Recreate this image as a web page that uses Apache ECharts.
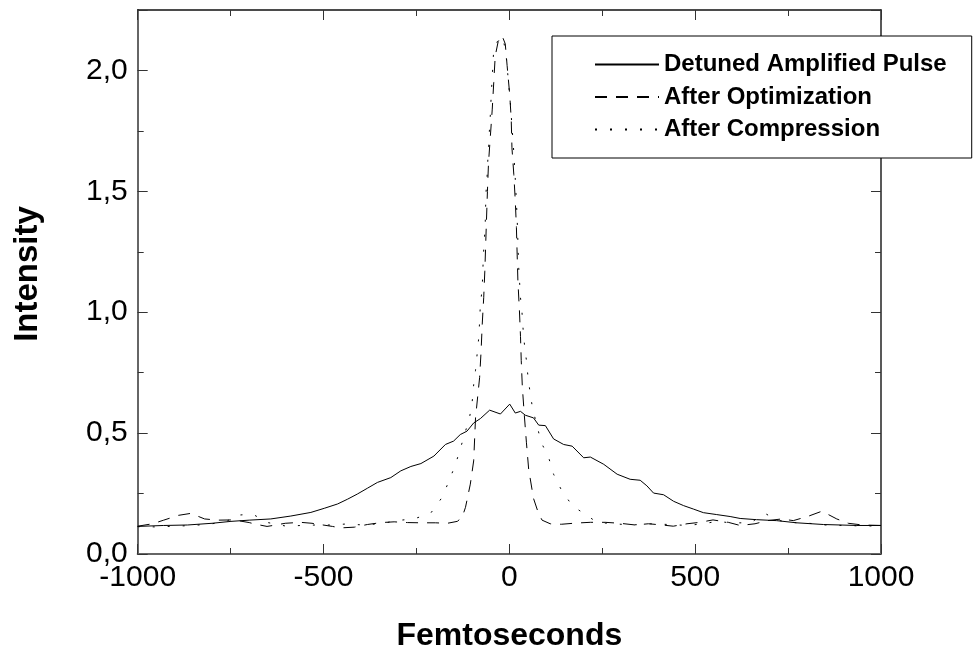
<!DOCTYPE html>
<html>
<head>
<meta charset="utf-8">
<script src="https://cdn.jsdelivr.net/npm/echarts@6/dist/echarts.min.js"></script>
<style>
html,body{margin:0;padding:0;background:#fff;}
#chart{width:974px;height:657px;}
</style>
</head>
<body>
<div id="chart"></div>
<script>
// ---- data ----
const seriesNames = ['Detuned Amplified Pulse', 'After Optimization', 'After Compression'];
const xTickValues = [-1000, -500, 0, 500, 1000];
const yTickValues = [0, 0.5, 1.0, 1.5, 2.0];
const yTickLabels = ['0,0', '0,5', '1,0', '1,5', '2,0'];

const detX = [-1000,-930,-866,-800,-749,-700,-642,-588,-534,-498,-462,-435,-409,-382,-355,-319,-292,-265,-238,-203,-172,-150,-132,-114,-96,-78,-53,-24,1,16,30,43,65,79,97,119,146,169,200,218,254,290,325,352,370,388,415,442,469,495,522,558,594,621,665,719,773,845,935,1000];
const detY = [0.114,0.118,0.120,0.127,0.135,0.140,0.145,0.157,0.172,0.189,0.207,0.227,0.248,0.272,0.296,0.316,0.344,0.362,0.374,0.405,0.453,0.467,0.494,0.508,0.542,0.560,0.595,0.579,0.620,0.583,0.590,0.574,0.563,0.533,0.531,0.476,0.453,0.446,0.398,0.401,0.371,0.330,0.309,0.305,0.282,0.252,0.245,0.218,0.200,0.186,0.171,0.163,0.155,0.147,0.142,0.138,0.129,0.122,0.118,0.118];

const optX = [-1000,-960,-930,-890,-857,-820,-785,-742,-700,-685,-652,-636,-603,-562,-531,-476,-454,-417,-382,-345,-310,-274,-239,-199,-167,-140,-127,-118,-105,-96,-91,-80,-76,-73,-69,-66,-62,-59,-56,-51,-46,-42,-38,-30,-20,-11,-6,1,5,7,12,16,19,21,23,27,30,32,35,40,46,52,65,78,88,110,140,180,218,258,298,339,374,411,441,478,513,548,589,621,661,694,733,764,804,841,881,912,950,1000];
const optY = [0.115,0.125,0.140,0.160,0.168,0.145,0.140,0.141,0.130,0.124,0.114,0.118,0.127,0.131,0.127,0.114,0.108,0.111,0.122,0.130,0.133,0.130,0.129,0.129,0.127,0.135,0.152,0.193,0.289,0.385,0.563,0.73,0.84,0.95,1.06,1.17,1.36,1.50,1.62,1.73,1.84,1.95,2.06,2.12,2.145,2.11,2.02,1.90,1.80,1.68,1.57,1.46,1.35,1.24,1.13,1.01,0.90,0.80,0.69,0.58,0.46,0.35,0.23,0.17,0.14,0.125,0.123,0.128,0.131,0.131,0.127,0.120,0.125,0.120,0.115,0.125,0.131,0.141,0.131,0.118,0.125,0.138,0.145,0.138,0.156,0.177,0.145,0.127,0.120,0.118];

const cmpX = [-1000,-950,-900,-850,-800,-760,-737,-691,-650,-600,-560,-520,-480,-440,-391,-360,-337,-306,-257,-212,-181,-163,-145,-132,-107,-100,-96,-91,-82,-78,-73,-70,-65,-63,-60,-56,-51,-49,-44,-42,-32,-22,-15,-8,3,12,16,21,25,30,34,37,41,46,50,56,63,74,85,106,119,139,169,209,236,280,330,380,430,480,520,560,600,650,688,720,760,800,850,900,950,1000];
const cmpY = [0.113,0.112,0.115,0.118,0.125,0.135,0.160,0.165,0.130,0.115,0.118,0.120,0.120,0.124,0.120,0.124,0.127,0.138,0.145,0.168,0.234,0.300,0.370,0.435,0.565,0.630,0.700,0.760,0.900,1.030,1.100,1.230,1.360,1.490,1.560,1.690,1.820,1.890,2.030,2.090,2.120,2.140,2.120,2.050,1.860,1.660,1.550,1.390,1.190,1.060,1.000,0.930,0.860,0.800,0.735,0.665,0.597,0.535,0.464,0.398,0.330,0.268,0.200,0.159,0.131,0.125,0.120,0.125,0.122,0.118,0.125,0.135,0.128,0.130,0.168,0.140,0.130,0.128,0.120,0.118,0.116,0.116];

// ---- chart ----
const FONT = "'Liberation Sans', Arial, Helvetica, sans-serif";
const pairs = (xs, ys) => xs.map((x, i) => [x, ys[i]]);
const yLabel = v => {
  const i = yTickValues.findIndex(t => Math.abs(t - v) < 1e-9);
  return i >= 0 ? yTickLabels[i] : '';
};
const xLabel = v => xTickValues.includes(v) ? String(v) : '';

const chart = echarts.init(document.getElementById('chart'), null, {renderer: 'canvas'});
const baseLine = {color: '#000', width: 1};
const tickStyle = {color: '#333', width: 1};
function frameY(position, interval, len, showLine, lineColor) {
  return {
    type: 'value', position: position, min: 0, max: 2.25, interval: interval,
    axisLine: {show: showLine, onZero: false, lineStyle: {color: lineColor, width: position === 'left' ? 2 : 1.5}},
    axisTick: {show: true, inside: true, length: len, lineStyle: tickStyle},
    splitLine: {show: false},
    axisLabel: {show: false}
  };
}
const yMain = frameY('left', 0.5, 10, true, '#666');
yMain.axisLabel = {show: true, fontFamily: FONT, fontSize: 30, color: '#000', margin: 10, formatter: yLabel};
yMain.name = 'Intensity';
yMain.nameLocation = 'middle';
yMain.nameGap = 93;
yMain.nameRotate = 90;
yMain.nameTextStyle = {fontFamily: FONT, fontSize: 33, fontWeight: 'bold', color: '#000', padding: [0, 0, 0, 16]};

chart.setOption({
  animation: false,
  backgroundColor: '#fff',
  textStyle: {fontFamily: FONT},
  grid: {left: 137.7, right: 93, top: 10, bottom: 100, containLabel: false},
  legend: {
    data: seriesNames,
    orient: 'vertical',
    left: 552, top: 36,
    padding: [16, 25, 16, 42],
    itemWidth: 64, itemHeight: 14, itemGap: 7.5,
    backgroundColor: '#fff', borderColor: '#000', borderWidth: 1,
    itemStyle: {opacity: 0},
    textStyle: {fontFamily: FONT, fontSize: 24, fontWeight: 'bold', color: '#000', lineHeight: 25},
    selectedMode: false
  },
  xAxis: [{
    type: 'value', position: 'bottom', min: -1000, max: 1000, interval: 500,
    axisLine: {onZero: false, lineStyle: {color: '#666', width: 2}},
    axisTick: {inside: true, length: 10, lineStyle: tickStyle},
    minorTick: {show: true, splitNumber: 2, length: 6, lineStyle: tickStyle},
    splitLine: {show: false},
    axisLabel: {fontFamily: FONT, fontSize: 30, color: '#000', margin: 9, formatter: xLabel},
    name: 'Femtoseconds', nameLocation: 'middle', nameGap: 66,
    nameTextStyle: {fontFamily: FONT, fontSize: 32, fontWeight: 'bold', color: '#000'}
  }, {
    type: 'value', position: 'top', min: -1000, max: 1000, interval: 500,
    axisLine: {onZero: false, lineStyle: {color: '#111', width: 1.5}},
    axisTick: {inside: true, length: 10, lineStyle: tickStyle},
    minorTick: {show: true, splitNumber: 2, length: 6, lineStyle: tickStyle},
    splitLine: {show: false},
    axisLabel: {show: false}
  }],
  yAxis: [
    yMain,
    frameY('left', 0.25, 6, false, '#666'),
    frameY('right', 0.5, 10, true, '#222'),
    frameY('right', 0.25, 6, false, '#222')
  ],
  series: [{
    name: seriesNames[0], type: 'line', xAxisIndex: 0, yAxisIndex: 0,
    data: pairs(detX, detY), symbol: 'none', showSymbol: false,
    lineStyle: Object.assign({}, baseLine, {type: 'solid'}), itemStyle: {color: '#000'}, z: 3
  }, {
    name: seriesNames[1], type: 'line', xAxisIndex: 0, yAxisIndex: 0,
    data: pairs(optX, optY), symbol: 'none', showSymbol: false,
    lineStyle: Object.assign({}, baseLine, {type: [12, 9]}), itemStyle: {color: '#000'}, z: 3
  }, {
    name: seriesNames[2], type: 'line', xAxisIndex: 0, yAxisIndex: 0,
    data: pairs(cmpX, cmpY), symbol: 'none', showSymbol: false,
    lineStyle: Object.assign({}, baseLine, {type: [2, 13]}), itemStyle: {color: '#000'}, z: 3
  }]
});
</script>
</body>
</html>
